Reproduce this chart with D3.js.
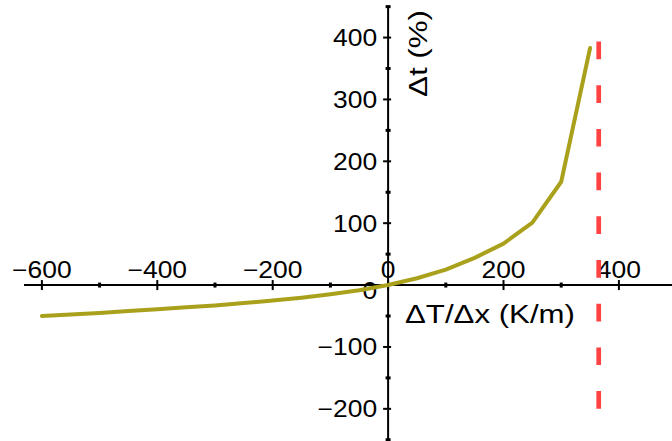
<!DOCTYPE html>
<html>
<head>
<meta charset="utf-8">
<script src="https://cdn.jsdelivr.net/npm/d3@7"></script>
<style>
  html, body { margin: 0; padding: 0; background: #fff; }
  svg { display: block; }
  text { font-family: "Liberation Sans", Arial, Helvetica, sans-serif; fill: #000; }
</style>
</head>
<body>
<svg id="chart" width="672" height="441"></svg>
<script>
// Temperature gradient (K/m) and relative change of Δt (%)
const gradient = [-600, -550, -500, -450, -400, -350, -300, -250, -200, -150, -100, -50,
                  0, 50, 100, 150, 200, 250, 300, 350];
const deltaT   = [-50, -47.5, -45, -42, -39, -36, -33, -29, -25, -20.5, -15, -8.5,
                  0, 11, 25, 44, 67, 101, 167, 383];

// Vertical asymptote
const asymptoteX = 365;
const asymptoteY = [-200, 400];

// Axis ticks
const xMajorTicks = [-600, -400, -200, 0, 200, 400];
const xMinorTicks = [-500, -300, -100, 100, 300];
const yMajorTicks = [-200, -100, 0, 100, 200, 300, 400];
const yMinorTicks = [-250, -150, -50, 50, 150, 250, 350, 450];

const xTitle = "ΔT/Δx (K/m)";
const yTitle = "Δt (%)";

const W = 672, H = 441;
const svg = d3.select("#chart");

const x = d3.scaleLinear().domain([-631, 492]).range([24, 672]);
const y = d3.scaleLinear().domain([-252, 451]).range([441, 6]);

const x0 = x(0), y0 = y(0);
const fmt = v => (v < 0 ? "\u2212" + Math.abs(v) : String(v));

// Axis lines through the origin
svg.append("line").attr("x1", x(-631)).attr("x2", x(492)).attr("y1", y0).attr("y2", y0)
  .attr("stroke", "#000").attr("stroke-width", 2);
svg.append("line").attr("x1", x0).attr("x2", x0).attr("y1", y(451)).attr("y2", y(-252))
  .attr("stroke", "#000").attr("stroke-width", 2);

// x ticks
svg.append("g").selectAll("line").data(xMajorTicks).join("line")
  .attr("x1", d => x(d)).attr("x2", d => x(d)).attr("y1", y0 - 5).attr("y2", y0 + 5)
  .attr("stroke", "#000").attr("stroke-width", 2);
svg.append("g").selectAll("line").data(xMinorTicks).join("line")
  .attr("x1", d => x(d)).attr("x2", d => x(d)).attr("y1", y0 - 2.5).attr("y2", y0 + 2.5)
  .attr("stroke", "#000").attr("stroke-width", 3);

// y ticks
svg.append("g").selectAll("line").data(yMajorTicks.filter(d => d !== 0)).join("line")
  .attr("x1", x0 - 5).attr("x2", x0 + 3).attr("y1", d => y(d)).attr("y2", d => y(d))
  .attr("stroke", "#000").attr("stroke-width", 2);
svg.append("g").selectAll("line").data(yMinorTicks).join("line")
  .attr("x1", x0 - 2.5).attr("x2", x0 + 2.5).attr("y1", d => y(d)).attr("y2", d => y(d))
  .attr("stroke", "#000").attr("stroke-width", 3);

const labelSize = 23, labelStretch = 1.15;

// x tick labels, above the axis
svg.append("g").selectAll("text").data(xMajorTicks).join("text")
  .attr("transform", d => `translate(${x(d)},${y0 - 7}) scale(${labelStretch},1)`)
  .attr("text-anchor", "middle")
  .attr("font-size", labelSize)
  .text(fmt);

// y tick labels, left of the axis
svg.append("g").selectAll("text").data(yMajorTicks).join("text")
  .attr("transform", d => `translate(${x0 - 11},${y(d) + (d === 0 ? 13.5 : 8.5)}) scale(${labelStretch},1)`)
  .attr("text-anchor", "end")
  .attr("font-size", labelSize)
  .text(fmt);

// Axis titles
svg.append("text")
  .attr("x", 405).attr("y", 323)
  .attr("font-size", 25)
  .attr("textLength", 170).attr("lengthAdjust", "spacingAndGlyphs")
  .text(xTitle);

svg.append("text")
  .attr("transform", `translate(427,97) rotate(-90)`)
  .attr("font-size", 25)
  .attr("textLength", 87).attr("lengthAdjust", "spacingAndGlyphs")
  .text(yTitle);

// Asymptote
svg.append("line")
  .attr("x1", x(asymptoteX)).attr("x2", x(asymptoteX))
  .attr("y1", y(asymptoteY[0])).attr("y2", y(asymptoteY[1]))
  .attr("stroke", "#ff4343").attr("stroke-width", 4.7)
  .attr("stroke-dasharray", "17.7,26");

// Curve
const line = d3.line().x((d, i) => x(gradient[i])).y(d => y(d));
svg.append("path")
  .datum(deltaT)
  .attr("d", line)
  .attr("fill", "none")
  .attr("stroke", "#a9a11b")
  .attr("stroke-width", 4)
  .attr("stroke-linejoin", "round")
  .attr("stroke-linecap", "round");
</script>
</body>
</html>
